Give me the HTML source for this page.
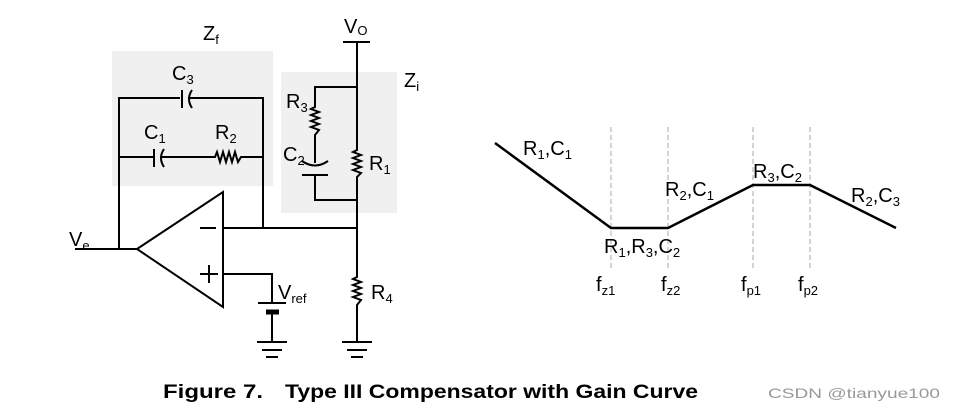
<!DOCTYPE html>
<html><head><meta charset="utf-8"><style>
html,body{margin:0;padding:0;background:#fff;}
svg{display:block;}
text{font-family:"Liberation Sans",Arial,sans-serif;fill:#000;font-size:20px;}
.s{font-size:13px;}
</style></head><body>
<svg width="954" height="414" viewBox="0 0 954 414" xmlns="http://www.w3.org/2000/svg">
<rect x="112" y="51" width="161" height="135" fill="#f0f0f0"/>
<rect x="281" y="72" width="116" height="141" fill="#f0f0f0"/>
<g stroke="#000" stroke-width="2" fill="none">
<polyline points="119,249 119,98 180,98"/>
<line x1="182" y1="90" x2="182" y2="108"/>
<path d="M192,90 Q186,99 192,108"/>
<polyline points="188,98 263,98 263,228"/>
<line x1="119" y1="157" x2="153" y2="157"/>
<line x1="154" y1="149" x2="154" y2="167"/>
<path d="M164,149 Q158,158 164,167"/>
<polyline points="160,157 215,157 217,152 220,162 223,152 226,162 229,152 232,162 235,152 238,162 241,157 263,157"/>
<polygon points="137,249 223,192 223,307"/>
<line x1="75" y1="249" x2="137" y2="249"/>
<line x1="223" y1="228" x2="357" y2="228"/>
<line x1="200" y1="228" x2="216" y2="228"/>
<line x1="200" y1="274" x2="218" y2="274"/>
<line x1="209" y1="265" x2="209" y2="283"/>
<polyline points="223,274 272,274 272,303"/>
<line x1="258" y1="303" x2="286" y2="303"/>
<line x1="266" y1="312" x2="279" y2="312" stroke-width="5"/>
<line x1="272" y1="312" x2="272" y2="342"/>
<line x1="257" y1="342" x2="287" y2="342"/>
<line x1="262" y1="350" x2="282" y2="350"/>
<line x1="266" y1="357" x2="278" y2="357"/>
<line x1="343" y1="42" x2="370" y2="42"/>
<polyline points="357,42 357,150 353,152 361,155 353,158 361,161 353,164 361,167 353,170 361,173 357,177 357,277 353,279 361,282 353,285 361,288 353,291 361,294 353,297 361,300 357,305 357,342"/>
<line x1="342" y1="342" x2="372" y2="342"/>
<line x1="347" y1="350" x2="367" y2="350"/>
<line x1="351" y1="357" x2="363" y2="357"/>
<polyline points="357,87 315,87 315,107 311,109 319,112 311,115 319,118 311,121 319,124 311,127 319,130 315,135 315,163"/>
<path d="M302,161 Q315,170 328,161"/>
<line x1="302" y1="175" x2="328" y2="175"/>
<polyline points="315,175 315,200 357,200"/>
</g>
<text x="203" y="40">Z<tspan class="s" dy="4">f</tspan></text>
<text x="344" y="33">V<tspan class="s" dy="2">O</tspan></text>
<text x="404" y="87">Z<tspan class="s" dy="4">i</tspan></text>
<text x="172" y="80">C<tspan class="s" dy="4">3</tspan></text>
<text x="144" y="139">C<tspan class="s" dy="4">1</tspan></text>
<text x="215" y="139">R<tspan class="s" dy="4">2</tspan></text>
<text x="286" y="108">R<tspan class="s" dy="4">3</tspan></text>
<text x="283" y="161">C<tspan class="s" dy="4">2</tspan></text>
<text x="369" y="170">R<tspan class="s" dy="4">1</tspan></text>
<text x="371" y="299">R<tspan class="s" dy="4">4</tspan></text>
<text x="278" y="299">V<tspan class="s" dy="4">ref</tspan></text>
<text x="69" y="246">V<tspan class="s" dy="4">e</tspan></text>
<g stroke="#aaa" stroke-width="1" stroke-dasharray="5,3">
<line x1="611" y1="127" x2="611" y2="268"/>
<line x1="668" y1="127" x2="668" y2="268"/>
<line x1="753" y1="127" x2="753" y2="268"/>
<line x1="810" y1="127" x2="810" y2="268"/>
</g>
<polyline points="495,143 611,228 668,228 753,185 810,185 896,228" stroke="#000" stroke-width="2.5" fill="none"/>
<text x="523" y="155">R<tspan class="s" dy="4">1</tspan><tspan dy="-4">,C</tspan><tspan class="s" dy="4">1</tspan></text>
<text x="665" y="196">R<tspan class="s" dy="4">2</tspan><tspan dy="-4">,C</tspan><tspan class="s" dy="4">1</tspan></text>
<text x="753" y="178">R<tspan class="s" dy="4">3</tspan><tspan dy="-4">,C</tspan><tspan class="s" dy="4">2</tspan></text>
<text x="851" y="202">R<tspan class="s" dy="4">2</tspan><tspan dy="-4">,C</tspan><tspan class="s" dy="4">3</tspan></text>
<text x="604" y="253">R<tspan class="s" dy="4">1</tspan><tspan dy="-4">,R</tspan><tspan class="s" dy="4">3</tspan><tspan dy="-4">,C</tspan><tspan class="s" dy="4">2</tspan></text>
<text x="596" y="291">f<tspan class="s" dy="4">z1</tspan></text>
<text x="661" y="291">f<tspan class="s" dy="4">z2</tspan></text>
<text x="741" y="291">f<tspan class="s" dy="4">p1</tspan></text>
<text x="798" y="291">f<tspan class="s" dy="4">p2</tspan></text>
<text x="163" y="398" style="font-weight:bold;font-size:19px" textLength="100" lengthAdjust="spacingAndGlyphs">Figure 7.</text>
<text x="285" y="398" style="font-weight:bold;font-size:19px" textLength="413" lengthAdjust="spacingAndGlyphs">Type III Compensator with Gain Curve</text>
<text x="768" y="398" style="font-size:14px;fill:#999" textLength="172" lengthAdjust="spacingAndGlyphs">CSDN @tianyue100</text>
</svg>
</body></html>
